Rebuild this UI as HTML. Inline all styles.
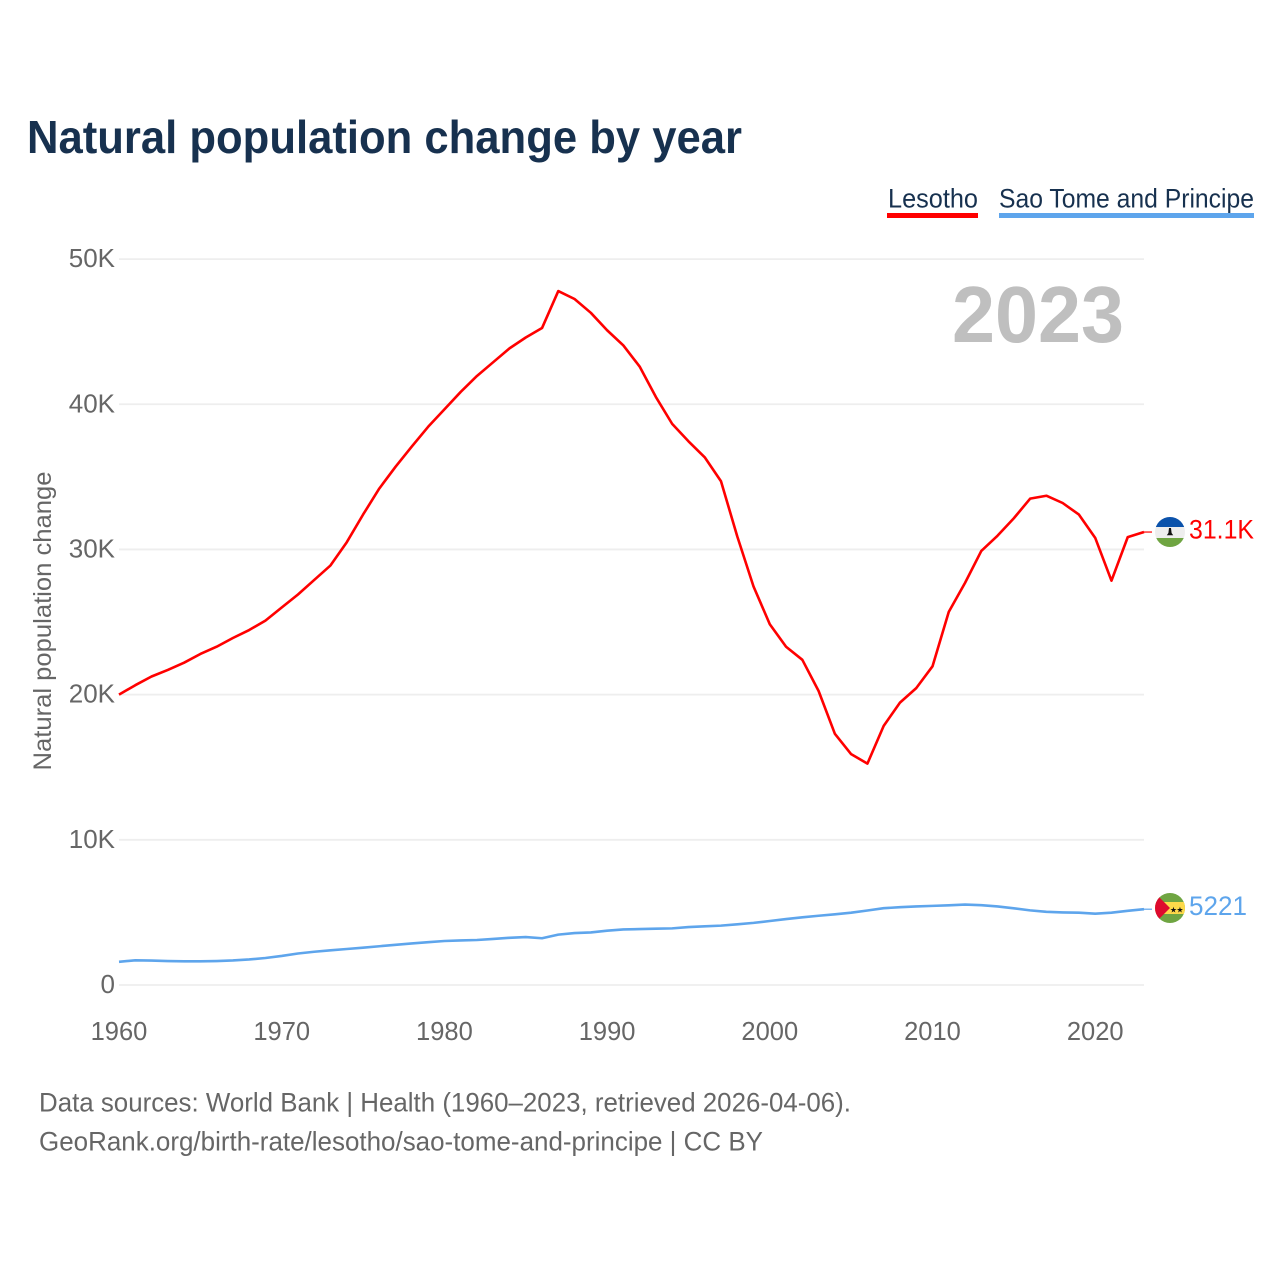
<!DOCTYPE html>
<html lang="en">
<head>
<meta charset="utf-8">
<title>Natural population change by year</title>
<style>
html,body{margin:0;padding:0;background:#fff;width:1280px;height:1280px;overflow:hidden}
svg{display:block}
text{font-family:"Liberation Sans",sans-serif}
</style>
</head>
<body>
<svg id="chart" width="1280" height="1280" viewBox="0 0 1280 1280" xmlns="http://www.w3.org/2000/svg">
  <defs>
    <clipPath id="flag-clip-a"><circle cx="1170" cy="532" r="15"/></clipPath>
    <clipPath id="flag-clip-b"><circle cx="1170" cy="908" r="15"/></clipPath>
  </defs>
  <text x="27" y="153" font-size="46" font-weight="700" fill="#17314f" textLength="715" lengthAdjust="spacingAndGlyphs">Natural population change by year</text>

  <g>
    <text x="888" y="207.5" font-size="27" fill="#17314f" textLength="90" lengthAdjust="spacingAndGlyphs">Lesotho</text>
    <rect x="887" y="213" width="91" height="5" fill="#ff0000"/>
  </g>
  <g>
    <text x="999" y="207.5" font-size="27" fill="#17314f" textLength="255" lengthAdjust="spacingAndGlyphs">Sao Tome and Principe</text>
    <rect x="999" y="213" width="255" height="5" fill="#5ea5ec"/>
  </g>

  <g id="grid"></g>
  <g id="yticks"></g>
  <g id="xticks"></g>

  <text transform="translate(51 621) rotate(-90)" text-anchor="middle" font-size="25" fill="#666" textLength="299" lengthAdjust="spacingAndGlyphs">Natural population change</text>
  <text x="952" y="342" font-size="80" font-weight="700" fill="#bfbfbf" textLength="172" lengthAdjust="spacingAndGlyphs">2023</text>

  <g id="series"></g>

  <g clip-path="url(#flag-clip-a)">
    <rect x="1155" y="517" width="30" height="30" fill="#eeeeee"/>
    <rect x="1155" y="517" width="30" height="10" fill="#0b52ab"/>
    <rect x="1155" y="538" width="30" height="9" fill="#6fa542"/>
    <path d="M1169 528h2l.6 5 1.6 2.2h-6.4l1.6-2.2z" fill="#111"/>
  </g>
  <g clip-path="url(#flag-clip-b)">
    <rect x="1155" y="893" width="30" height="30" fill="#6fa542"/>
    <rect x="1155" y="902" width="30" height="12" fill="#fdd94a"/>
    <path d="M1155 893l15 15-15 15z" fill="#de0a2e"/>
    <text x="1173.5" y="912.5" font-size="8" text-anchor="middle" fill="#111">★</text>
    <text x="1180" y="912.5" font-size="8" text-anchor="middle" fill="#111">★</text>
  </g>

  <g id="endlabels"></g>

  <text x="39" y="1111.5" font-size="27" fill="#666" textLength="812" lengthAdjust="spacingAndGlyphs">Data sources: World Bank | Health (1960–2023, retrieved 2026-04-06).</text>
  <text x="39" y="1150.5" font-size="27" fill="#666" textLength="724" lengthAdjust="spacingAndGlyphs">GeoRank.org/birth-rate/lesotho/sao-tome-and-principe | CC BY</text>
</svg>
<script>
const startYear = 1960;
const yTickValues = [0, 10000, 20000, 30000, 40000, 50000];
const yTickLabels = ["0", "10K", "20K", "30K", "40K", "50K"];
const xTickValues = [1960, 1970, 1980, 1990, 2000, 2010, 2020];
const xTickLabels = ["1960", "1970", "1980", "1990", "2000", "2010", "2020"];
const lesothoValues = [20000,20650,21250,21700,22200,22800,23300,23900,24450,25100,26000,26900,27900,28900,30500,32400,34200,35700,37100,38450,39650,40850,41950,42900,43850,44600,45250,47800,47250,46300,45100,44050,42600,40500,38650,37450,36350,34700,30900,27450,24850,23300,22400,20250,17300,15900,15250,17850,19450,20450,21950,25700,27700,29900,30950,32150,33500,33700,33200,32400,30800,27850,30850,31200];
const saoTomeValues = [1600,1700,1680,1650,1630,1630,1650,1690,1760,1860,2000,2170,2290,2390,2480,2570,2670,2770,2860,2950,3030,3070,3100,3170,3250,3300,3220,3470,3580,3620,3740,3830,3850,3880,3900,3990,4040,4090,4180,4280,4410,4540,4660,4770,4870,4980,5130,5290,5360,5410,5450,5490,5540,5500,5410,5280,5140,5040,5000,4980,4910,4980,5110,5221];
const lesothoEndLabel = "31.1K";
const saoTomeEndLabel = "5221";

const NS = "http://www.w3.org/2000/svg";
function xScale(year) { return 119 + (year - 1960) * 16.27; }
function yScale(value) { return 985 - value * 0.014518; }
function make(tag, attrs, parent) {
  const el = document.createElementNS(NS, tag);
  for (const k in attrs) el.setAttribute(k, attrs[k]);
  parent.appendChild(el);
  return el;
}
const gridGroup = document.getElementById("grid");
const yGroup = document.getElementById("yticks");
const xGroup = document.getElementById("xticks");
const seriesGroup = document.getElementById("series");
const endGroup = document.getElementById("endlabels");

yTickValues.forEach(function (v, i) {
  const y = yScale(v);
  const line = make("line", {x1: 119, x2: 1144, y1: y, y2: y, stroke: "#eeeeee", "stroke-width": 1.8}, gridGroup);
  
  
  const label = make("text", {x: 115, y: y + 8, "text-anchor": "end", "font-size": 26, fill: "#666"}, yGroup);
  
  
  label.textContent = yTickLabels[i];
});
xTickValues.forEach(function (v, i) {
  const label = make("text", {x: xScale(v), y: 1040, "text-anchor": "middle", "font-size": 25.5, fill: "#666"}, xGroup);
  
  
  label.textContent = xTickLabels[i];
});
function pathFor(values) {
  return values.map(function (v, i) {
    return (i ? "L" : "M") + xScale(startYear + i).toFixed(2) + " " + yScale(v).toFixed(2);
  }).join("");
}
const lesothoLine = make("path", {d: pathFor(lesothoValues), fill: "none", stroke: "#ff0000", "stroke-width": 2.6, "stroke-linejoin": "round"}, seriesGroup);


const saoTomeLine = make("path", {d: pathFor(saoTomeValues), fill: "none", stroke: "#5ea5ec", "stroke-width": 2.6, "stroke-linejoin": "round"}, seriesGroup);



const lastYear = startYear + lesothoValues.length - 1;
const lesothoLast = yScale(lesothoValues[lesothoValues.length - 1]);
const saoTomeLast = yScale(saoTomeValues[saoTomeValues.length - 1]);
const lesothoLead = make("line", {x1: xScale(lastYear), x2: 1152, y1: lesothoLast, y2: lesothoLast, stroke: "#ff0000", "stroke-width": 1.2}, seriesGroup);


const saoTomeLead = make("line", {x1: xScale(lastYear), x2: 1152, y1: saoTomeLast, y2: saoTomeLast, stroke: "#5ea5ec", "stroke-width": 1.2}, seriesGroup);



const lesothoEnd = make("text", {x: 1189, y: lesothoLast + 6.5, "font-size": 26.5, fill: "#ff0000", textLength: 65, lengthAdjust: "spacingAndGlyphs"}, endGroup);


lesothoEnd.textContent = lesothoEndLabel;
const saoTomeEnd = make("text", {x: 1189, y: saoTomeLast + 6, "font-size": 26.5, fill: "#5ea5ec", textLength: 58, lengthAdjust: "spacingAndGlyphs"}, endGroup);


saoTomeEnd.textContent = saoTomeEndLabel;
</script>
</body>
</html>
